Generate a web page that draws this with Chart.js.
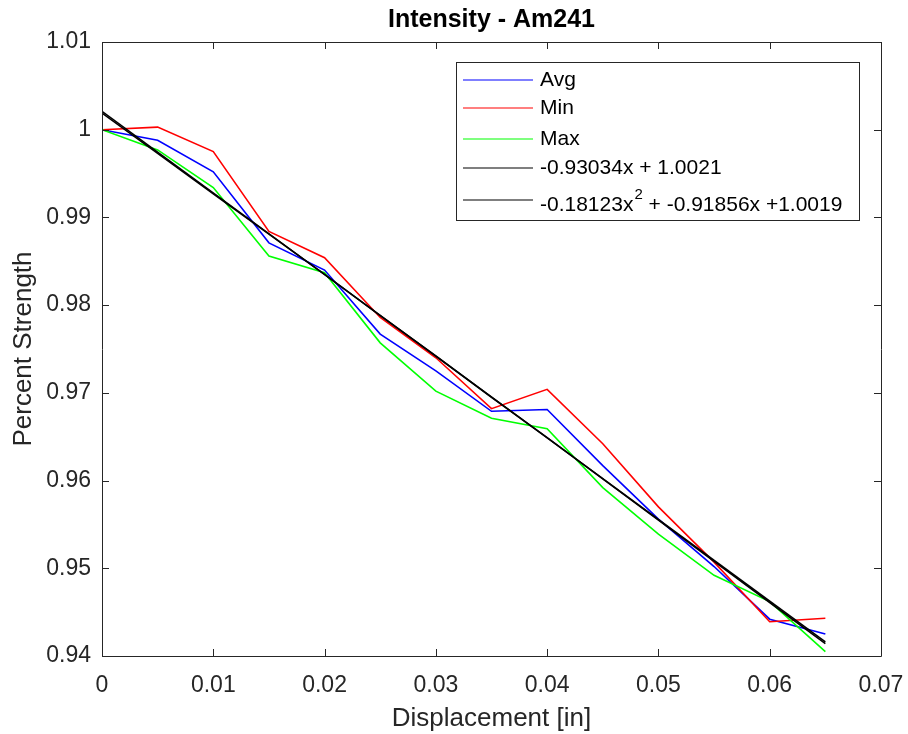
<!DOCTYPE html>
<html>
<head>
<meta charset="utf-8">
<script src="https://cdn.jsdelivr.net/npm/chart.js@4/dist/chart.umd.min.js"></script>
<style>
  html, body { margin: 0; padding: 0; background: #fff; }
  #wrap { width: 908px; height: 734px; }
</style>
</head>
<body>
<div id="wrap"><canvas id="myChart"></canvas></div>
<script>
// displacement in inches
var xVals = [0, 0.005, 0.01, 0.015, 0.02, 0.025, 0.03, 0.035, 0.04, 0.045, 0.05, 0.055, 0.06, 0.065];
var avgVals = [1.0000, 0.9988, 0.9952, 0.9871, 0.9840, 0.9767, 0.9725, 0.9679, 0.9681, 0.9617, 0.9556, 0.9502, 0.9442, 0.9425];
var minVals = [1.0000, 1.0003, 0.9975, 0.9884, 0.9854, 0.9786, 0.9740, 0.9682, 0.9704, 0.9642, 0.9570, 0.9507, 0.9439, 0.9443];
var maxVals = [1.0000, 0.9977, 0.9934, 0.9856, 0.9837, 0.9757, 0.9702, 0.9671, 0.9659, 0.9592, 0.9539, 0.9492, 0.9462, 0.9405];
// fitted lines
var linX = [0, 0.065];
var linVals = [1.0021, 0.9416];
var quadVals = [1.0019, 0.9973, 0.9927, 0.9881, 0.9835, 0.9788, 0.9742, 0.9695, 0.9649, 0.9602, 0.9555, 0.9508, 0.9461, 0.9414];

var xTickVals = [0, 0.01, 0.02, 0.03, 0.04, 0.05, 0.06, 0.07];
var xTickLabels = ['0', '0.01', '0.02', '0.03', '0.04', '0.05', '0.06', '0.07'];
var yTickVals = [0.94, 0.95, 0.96, 0.97, 0.98, 0.99, 1.00, 1.01];
var yTickLabels = ['0.94', '0.95', '0.96', '0.97', '0.98', '0.99', '1', '1.01'];

var FONT = '"Liberation Sans", Arial, sans-serif';
var AXC = '#262626';

function pts(xs, ys) {
  return xs.map(function (x, i) { return { x: x, y: ys[i] }; });
}

// box + inward ticks like matlab
var boxPlugin = {
  id: 'box',
  afterDatasetsDraw: function (chart) {
    var c = chart.ctx, a = chart.chartArea;
    var xs = chart.scales.x, ys = chart.scales.y;
    var tl = 7;
    c.save();
    c.strokeStyle = AXC;
    c.lineWidth = 1;
    c.beginPath();
    c.rect(Math.round(a.left) + 0.5, Math.round(a.top) + 0.5, Math.round(a.right - a.left), Math.round(a.bottom - a.top));
    xTickVals.forEach(function (v) {
      var px = Math.round(xs.getPixelForValue(v)) + 0.5;
      c.moveTo(px, a.bottom); c.lineTo(px, a.bottom - tl);
      c.moveTo(px, a.top); c.lineTo(px, a.top + tl);
    });
    yTickVals.forEach(function (v) {
      var py = Math.round(ys.getPixelForValue(v)) + 0.5;
      c.moveTo(a.left, py); c.lineTo(a.left + tl, py);
      c.moveTo(a.right, py); c.lineTo(a.right - tl, py);
    });
    c.stroke();
    c.restore();
  }
};

// legend box in the upper right of the axes
var legendPlugin = {
  id: 'boxLegend',
  afterDraw: function (chart) {
    var c = chart.ctx;
    var bx = 456, by = 62, bw = 403, bh = 158;
    var rows = [80, 108, 139, 168, 200];
    c.save();
    c.fillStyle = '#fff';
    c.fillRect(bx, by, bw, bh);
    c.strokeStyle = AXC;
    c.lineWidth = 1;
    c.strokeRect(bx + 0.5, by + 0.5, bw, bh);
    c.textBaseline = 'middle';
    chart.data.datasets.forEach(function (ds, i) {
      var y = rows[i];
      c.strokeStyle = ds.borderColor;
      c.lineWidth = 1.2;
      c.beginPath();
      c.moveTo(463, y); c.lineTo(533, y);
      c.stroke();
      c.fillStyle = '#000';
      var parts = ds.label.split('^');
      c.font = '21px ' + FONT;
      if (parts.length === 1) {
        c.fillText(ds.label, 540, y);
      } else {
        var ty = y + 5;
        c.fillText(parts[0], 540, ty);
        var w = c.measureText(parts[0]).width;
        c.font = '15px ' + FONT;
        c.fillText(parts[1].charAt(0), 540 + w + 1, ty - 10);
        var w2 = c.measureText(parts[1].charAt(0)).width;
        c.font = '21px ' + FONT;
        c.fillText(parts[1].slice(1), 540 + w + w2 + 1, ty);
      }
    });
    c.restore();
  }
};

var ctx = document.getElementById('myChart').getContext('2d');
var myChart = new Chart(ctx, {
  type: 'scatter',
  data: {
    datasets: [
      { label: 'Avg', data: pts(xVals, avgVals), borderColor: '#0000ff', order: 4 },
      { label: 'Min', data: pts(xVals, minVals), borderColor: '#ff0000', order: 3 },
      { label: 'Max', data: pts(xVals, maxVals), borderColor: '#00ff00', order: 2 },
      { label: '-0.93034x + 1.0021', data: pts(linX, linVals), borderColor: '#000000', order: 1 },
      { label: '-0.18123x^2 + -0.91856x +1.0019', data: pts(xVals, quadVals), borderColor: '#000000', order: 0 }
    ].map(function (d) {
      d.showLine = true;
      d.pointRadius = 0;
      d.borderWidth = 1.6;
      d.fill = false;
      return d;
    })
  },
  options: {
    responsive: true,
    maintainAspectRatio: false,
    animation: false,
    layout: { padding: { left: 0, right: 27, top: 0, bottom: 0 } },
    plugins: {
      legend: { display: false },
      tooltip: { enabled: false },
      title: {
        display: true,
        fullSize: false,
        text: 'Intensity - Am241',
        color: '#000',
        font: { family: FONT, size: 25, weight: 'bold', lineHeight: 1.2 },
        padding: { top: 5, bottom: 7 }
      }
    },
    scales: {
      x: {
        type: 'linear',
        min: 0,
        max: 0.07,
        grid: { display: false, drawTicks: false },
        border: { display: false },
        afterBuildTicks: function (s) { s.ticks = xTickVals.map(function (v) { return { value: v }; }); },
        afterFit: function (s) { s.height = 78; s.paddingLeft = 0; s.paddingRight = 0; },
        ticks: {
          color: AXC,
          padding: 16,
          maxRotation: 0,
          font: { family: FONT, size: 23 },
          callback: function (v, i) { return xTickLabels[i]; }
        },
        title: {
          display: true,
          text: 'Displacement [in]',
          color: AXC,
          font: { family: FONT, size: 26, lineHeight: 1.2 },
          padding: { top: 0, bottom: 0 }
        }
      },
      y: {
        type: 'linear',
        min: 0.94,
        max: 1.01,
        grid: { display: false, drawTicks: false },
        border: { display: false },
        afterBuildTicks: function (s) { s.ticks = yTickVals.map(function (v) { return { value: v }; }); },
        afterFit: function (s) { s.width = 102; s.paddingTop = 0; s.paddingBottom = 0; },
        ticks: {
          color: AXC,
          padding: 11,
          font: { family: FONT, size: 23 },
          callback: function (v, i) { return yTickLabels[i]; }
        },
        title: {
          display: true,
          text: 'Percent Strength',
          color: AXC,
          font: { family: FONT, size: 26, lineHeight: 1.2 },
          padding: { top: 8, bottom: 0 }
        }
      }
    }
  },
  plugins: [boxPlugin, legendPlugin]
});
</script>
</body>
</html>
